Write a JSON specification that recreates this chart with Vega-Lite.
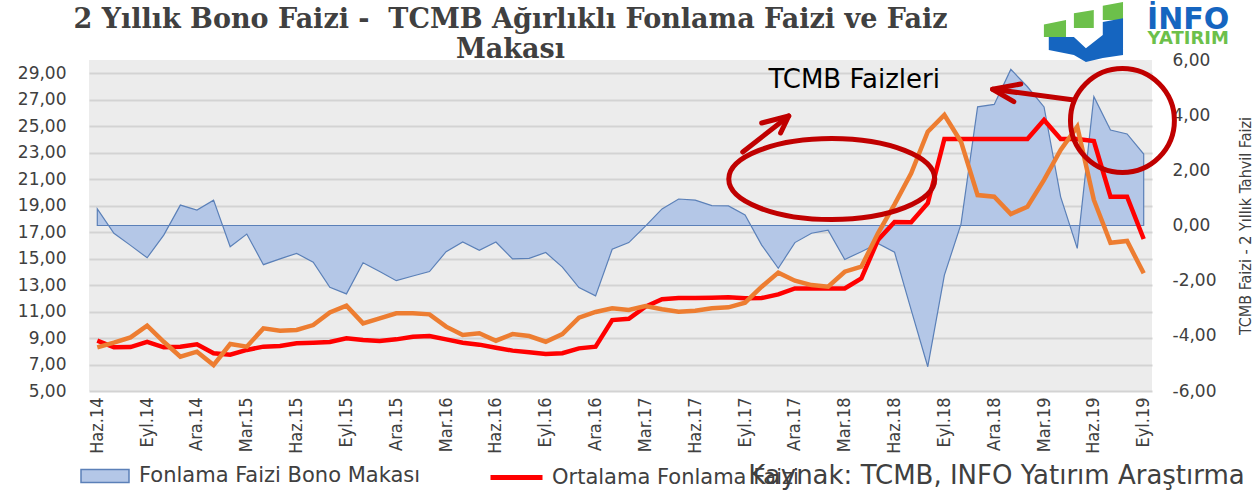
{
  "$schema": "https://vega.github.io/schema/vega-lite/v6.json",
  "width": 1063,
  "height": 331,
  "autosize": "none",
  "padding": {"left": 89, "top": 60, "right": 100, "bottom": 99},
  "background": "#ffffff",
  "config": {
    "font": "DejaVu Sans",
    "view": {"fill": "#ececec", "stroke": null},
    "axis": {"domain": false, "ticks": false, "labelFlush": false, "labelOverlap": false, "labelBound": false, "labelColor": "#404040", "titleColor": "#404040"}
  },
  "title": {
    "text": ["2 Yıllık Bono Faizi - \u00a0TCMB Ağırlıklı Fonlama Faizi ve Faiz", "Makası"],
    "font": "DejaVu Serif",
    "fontSize": 27,
    "fontWeight": "bold",
    "color": "#404040",
    "anchor": "middle",
    "frame": "group",
    "dx": -110,
    "dy": 62,
    "lineHeight": 30,
    "offset": 0
  },
  "datasets": {
    "veri": [
      {"i": 0, "ay": "Haz.14", "makas": 0.60, "fonlama": 8.80, "bono": 8.30},
      {"i": 1, "ay": "Tem.14", "makas": -0.28, "fonlama": 8.30, "bono": 8.65},
      {"i": 2, "ay": "Ağu.14", "makas": -0.72, "fonlama": 8.32, "bono": 9.05},
      {"i": 3, "ay": "Eyl.14", "makas": -1.17, "fonlama": 8.72, "bono": 9.93},
      {"i": 4, "ay": "Eki.14", "makas": -0.35, "fonlama": 8.30, "bono": 8.72},
      {"i": 5, "ay": "Kas.14", "makas": 0.74, "fonlama": 8.35, "bono": 7.59},
      {"i": 6, "ay": "Ara.14", "makas": 0.56, "fonlama": 8.53, "bono": 7.97},
      {"i": 7, "ay": "Oca.15", "makas": 0.92, "fonlama": 7.85, "bono": 6.96},
      {"i": 8, "ay": "Şub.15", "makas": -0.77, "fonlama": 7.74, "bono": 8.55},
      {"i": 9, "ay": "Mar.15", "makas": -0.31, "fonlama": 8.10, "bono": 8.35},
      {"i": 10, "ay": "Nis.15", "makas": -1.42, "fonlama": 8.35, "bono": 9.73},
      {"i": 11, "ay": "May.15", "makas": -1.21, "fonlama": 8.40, "bono": 9.55},
      {"i": 12, "ay": "Haz.15", "makas": -1.01, "fonlama": 8.60, "bono": 9.61},
      {"i": 13, "ay": "Tem.15", "makas": -1.33, "fonlama": 8.65, "bono": 9.98},
      {"i": 14, "ay": "Ağu.15", "makas": -2.24, "fonlama": 8.70, "bono": 10.94},
      {"i": 15, "ay": "Eyl.15", "makas": -2.48, "fonlama": 8.98, "bono": 11.45},
      {"i": 16, "ay": "Eki.15", "makas": -1.35, "fonlama": 8.85, "bono": 10.11},
      {"i": 17, "ay": "Kas.15", "makas": -1.67, "fonlama": 8.78, "bono": 10.49},
      {"i": 18, "ay": "Ara.15", "makas": -2.00, "fonlama": 8.90, "bono": 10.87},
      {"i": 19, "ay": "Oca.16", "makas": -1.83, "fonlama": 9.10, "bono": 10.87},
      {"i": 20, "ay": "Şub.16", "makas": -1.67, "fonlama": 9.15, "bono": 10.79},
      {"i": 21, "ay": "Mar.16", "makas": -0.95, "fonlama": 8.90, "bono": 9.86},
      {"i": 22, "ay": "Nis.16", "makas": -0.60, "fonlama": 8.65, "bono": 9.23},
      {"i": 23, "ay": "May.16", "makas": -0.90, "fonlama": 8.50, "bono": 9.36},
      {"i": 24, "ay": "Haz.16", "makas": -0.60, "fonlama": 8.27, "bono": 8.80},
      {"i": 25, "ay": "Tem.16", "makas": -1.21, "fonlama": 8.05, "bono": 9.30},
      {"i": 26, "ay": "Ağu.16", "makas": -1.19, "fonlama": 7.92, "bono": 9.15},
      {"i": 27, "ay": "Eyl.16", "makas": -0.98, "fonlama": 7.80, "bono": 8.72},
      {"i": 28, "ay": "Eki.16", "makas": -1.51, "fonlama": 7.85, "bono": 9.30},
      {"i": 29, "ay": "Kas.16", "makas": -2.25, "fonlama": 8.22, "bono": 10.54},
      {"i": 30, "ay": "Ara.16", "makas": -2.55, "fonlama": 8.35, "bono": 10.97},
      {"i": 31, "ay": "Oca.17", "makas": -0.86, "fonlama": 10.36, "bono": 11.25},
      {"i": 32, "ay": "Şub.17", "makas": -0.62, "fonlama": 10.46, "bono": 11.12},
      {"i": 33, "ay": "Mar.17", "makas": -0.02, "fonlama": 11.37, "bono": 11.42},
      {"i": 34, "ay": "Nis.17", "makas": 0.60, "fonlama": 11.93, "bono": 11.17},
      {"i": 35, "ay": "May.17", "makas": 0.96, "fonlama": 12.02, "bono": 10.99},
      {"i": 36, "ay": "Haz.17", "makas": 0.92, "fonlama": 12.02, "bono": 11.06},
      {"i": 37, "ay": "Tem.17", "makas": 0.72, "fonlama": 12.05, "bono": 11.25},
      {"i": 38, "ay": "Ağu.17", "makas": 0.71, "fonlama": 12.08, "bono": 11.32},
      {"i": 39, "ay": "Eyl.17", "makas": 0.38, "fonlama": 12.00, "bono": 11.67},
      {"i": 40, "ay": "Eki.17", "makas": -0.71, "fonlama": 12.02, "bono": 12.88},
      {"i": 41, "ay": "Kas.17", "makas": -1.55, "fonlama": 12.30, "bono": 13.94},
      {"i": 42, "ay": "Ara.17", "makas": -0.62, "fonlama": 12.75, "bono": 13.33},
      {"i": 43, "ay": "Oca.18", "makas": -0.28, "fonlama": 12.75, "bono": 13.00},
      {"i": 44, "ay": "Şub.18", "makas": -0.17, "fonlama": 12.75, "bono": 12.88},
      {"i": 45, "ay": "Mar.18", "makas": -1.23, "fonlama": 12.75, "bono": 14.01},
      {"i": 46, "ay": "Nis.18", "makas": -0.95, "fonlama": 13.51, "bono": 14.39},
      {"i": 47, "ay": "May.18", "makas": -0.65, "fonlama": 16.40, "bono": 16.91},
      {"i": 48, "ay": "Haz.18", "makas": -0.97, "fonlama": 17.76, "bono": 19.10},
      {"i": 49, "ay": "Tem.18", "makas": -3.06, "fonlama": 17.74, "bono": 21.44},
      {"i": 50, "ay": "Ağu.18", "makas": -5.12, "fonlama": 19.18, "bono": 24.58},
      {"i": 51, "ay": "Eyl.18", "makas": -1.80, "fonlama": 24.03, "bono": 25.85},
      {"i": 52, "ay": "Eki.18", "makas": 0.05, "fonlama": 24.03, "bono": 23.83},
      {"i": 53, "ay": "Kas.18", "makas": 4.30, "fonlama": 24.03, "bono": 19.80},
      {"i": 54, "ay": "Ara.18", "makas": 4.39, "fonlama": 24.03, "bono": 19.68},
      {"i": 55, "ay": "Oca.19", "makas": 5.66, "fonlama": 24.03, "bono": 18.37},
      {"i": 56, "ay": "Şub.19", "makas": 5.03, "fonlama": 24.03, "bono": 18.92},
      {"i": 57, "ay": "Mar.19", "makas": 4.30, "fonlama": 25.47, "bono": 20.94},
      {"i": 58, "ay": "Nis.19", "makas": 1.04, "fonlama": 24.03, "bono": 23.20},
      {"i": 59, "ay": "May.19", "makas": -0.83, "fonlama": 24.03, "bono": 24.96},
      {"i": 60, "ay": "Haz.19", "makas": 4.67, "fonlama": 23.88, "bono": 19.43},
      {"i": 61, "ay": "Tem.19", "makas": 3.46, "fonlama": 19.68, "bono": 16.20},
      {"i": 62, "ay": "Ağu.19", "makas": 3.32, "fonlama": 19.68, "bono": 16.33},
      {"i": 63, "ay": "Eyl.19", "makas": 2.59, "fonlama": 16.48, "bono": 13.89}
    ],
    "oklar": [
      {"parca": "ok1", "s": 0, "i": 38.86, "v": 23.05},
      {"parca": "ok1", "s": 1, "i": 41.63, "v": 25.77},
      {"parca": "ok1bas", "s": 0, "i": 40.0, "v": 25.24},
      {"parca": "ok1bas", "s": 1, "i": 41.63, "v": 25.77},
      {"parca": "ok1bas", "s": 2, "i": 41.14, "v": 24.49},
      {"parca": "ok2", "s": 0, "i": 58.81, "v": 26.98},
      {"parca": "ok2", "s": 1, "i": 53.9, "v": 27.79},
      {"parca": "ok2bas", "s": 0, "i": 55.6, "v": 28.19},
      {"parca": "ok2bas", "s": 1, "i": 53.9, "v": 27.79},
      {"parca": "ok2bas", "s": 2, "i": 55.18, "v": 26.85}
    ]
  },
  "encoding": {
    "x": {
      "field": "i", "type": "quantitative",
      "scale": {"domain": [-0.5, 63.5], "nice": false, "zero": false},
      "axis": {
        "title": null, "grid": false,
        "values": [0, 3, 6, 9, 12, 15, 18, 21, 24, 27, 30, 33, 36, 39, 42, 45, 48, 51, 54, 57, 60, 63],
        "labelExpr": "['Oca','Şub','Mar','Nis','May','Haz','Tem','Ağu','Eyl','Eki','Kas','Ara'][(datum.value + 5) % 12] + '.' + (14 + floor((datum.value + 5) / 12))",
        "labelAngle": 270,
        "labelFont": "Liberation Sans Narrow, DejaVu Sans Condensed, sans-serif",
        "labelFontSize": 18,
        "labelPadding": 6
      }
    }
  },
  "layer": [
    {
      "data": {"name": "veri"},
      "mark": {"type": "area", "stroke": "#5b80b8", "strokeWidth": 1.2, "opacity": 1},
      "encoding": {
        "y": {
          "field": "makas", "type": "quantitative",
          "scale": {"domain": [-6, 6], "nice": false, "zero": false},
          "axis": {
            "orient": "right", "grid": false,
            "values": [-6, -4, -2, 0, 2, 4, 6],
            "labelExpr": "(datum.value < 0 ? '-' : '') + replace(format(abs(datum.value), '.2f'), '.', ',')",
            "labelFont": "DejaVu Sans", "labelFontSize": 17, "labelPadding": 20,
            "title": "TCMB Faizi - 2 Yıllık Tahvil Faizi",
            "titleFont": "Liberation Sans Narrow, DejaVu Sans Condensed, sans-serif",
            "titleFontSize": 16, "titleFontWeight": "normal", "titleAngle": 270, "titlePadding": 38
          }
        },
        "y2": {"datum": 0},
        "fill": {
          "datum": "Fonlama Faizi Bono Makası", "type": "nominal",
          "scale": {"domain": ["Fonlama Faizi Bono Makası"], "range": ["#b4c7e7"]},
          "legend": {
            "orient": "none", "legendX": 5, "legendY": 405, "direction": "horizontal",
            "title": null,
            "labelFont": "DejaVu Sans", "labelFontSize": 21, "labelColor": "#404040", "labelLimit": 400,
            "symbolType": "M -2.4 -0.65 L 2.4 -0.65 L 2.4 0.65 L -2.4 0.65 Z",
            "symbolSize": 400, "symbolStrokeColor": "#5b80b8", "symbolStrokeWidth": 1.5, "symbolOpacity": 1,
            "labelOffset": 23, "padding": 0
          }
        }
      }
    },
    {
      "encoding": {
        "y": {
          "field": "v", "type": "quantitative",
          "scale": {"domain": [5, 30], "nice": false, "zero": false},
          "axis": {
            "orient": "left", "title": null, "grid": true, "gridColor": "#d3d3d3", "gridWidth": 2,
            "values": [5, 7, 9, 11, 13, 15, 17, 19, 21, 23, 25, 27, 29],
            "labelExpr": "replace(format(datum.value, '.2f'), '.', ',')",
            "labelFont": "DejaVu Sans", "labelFontSize": 17, "labelPadding": 23
          }
        }
      },
      "layer": [
        {
          "data": {"name": "veri"},
          "mark": {"type": "line", "strokeWidth": 4.5},
          "encoding": {
            "y": {
              "field": "fonlama", "type": "quantitative",
              "scale": {"domain": [5, 30], "nice": false, "zero": false},
              "axis": {
                "orient": "left", "title": null, "grid": true, "gridColor": "#d3d3d3", "gridWidth": 2,
                "values": [5, 7, 9, 11, 13, 15, 17, 19, 21, 23, 25, 27, 29],
                "labelExpr": "replace(format(datum.value, '.2f'), '.', ',')",
                "labelFont": "DejaVu Sans", "labelFontSize": 17, "labelPadding": 23
              }
            },
            "stroke": {
              "datum": "Ortalama Fonlama Faizi", "type": "nominal",
              "scale": {"domain": ["Ortalama Fonlama Faizi", "2 Yıllık Bono Faizi"], "range": ["#ff0000", "#ed7d31"]},
              "legend": {
                "orient": "none", "legendX": 415, "legendY": 405, "direction": "horizontal",
                "title": null, "values": ["Ortalama Fonlama Faizi"],
                "labelFont": "DejaVu Sans", "labelFontSize": 21, "labelColor": "#404040", "labelLimit": 400,
                "symbolType": "M -2.6 0 L 2.6 0",
                "symbolSize": 400, "symbolStrokeWidth": 5, "symbolOpacity": 1,
                "labelOffset": 23, "padding": 0
              }
            }
          }
        },
        {
          "data": {"name": "veri"},
          "mark": {"type": "line", "strokeWidth": 4.5},
          "encoding": {
            "y": {
              "field": "bono", "type": "quantitative",
              "scale": {"domain": [5, 30], "nice": false, "zero": false},
              "axis": {
                "orient": "left", "title": null, "grid": true, "gridColor": "#d3d3d3", "gridWidth": 2,
                "values": [5, 7, 9, 11, 13, 15, 17, 19, 21, 23, 25, 27, 29],
                "labelExpr": "replace(format(datum.value, '.2f'), '.', ',')",
                "labelFont": "DejaVu Sans", "labelFontSize": 17, "labelPadding": 23
              }
            },
            "stroke": {"datum": "2 Yıllık Bono Faizi", "type": "nominal"}
          }
        },
        {
          "data": {"values": [{"i": 44.22, "v": 21.01}]},
          "mark": {"type": "point", "shape": "M 1 0 C 1 0.217 0.5523 0.393 0 0.393 C -0.5523 0.393 -1 0.217 -1 0 C -1 -0.217 -0.5523 -0.393 0 -0.393 C 0.5523 -0.393 1 -0.217 1 0 Z", "size": 42436, "filled": false, "stroke": "#c00000", "strokeWidth": 5, "opacity": 1}
        },
        {
          "data": {"values": [{"i": 61.72, "v": 25.43}]},
          "mark": {"type": "point", "shape": "circle", "size": 10800, "filled": false, "stroke": "#c00000", "strokeWidth": 5, "opacity": 1}
        },
        {
          "data": {"name": "oklar"},
          "mark": {"type": "line", "stroke": "#c00000", "strokeWidth": 5, "strokeCap": "round", "strokeJoin": "round"},
          "encoding": {
            "detail": {"field": "parca", "type": "nominal"},
            "order": {"field": "s", "type": "quantitative"}
          }
        },
        {
          "data": {"values": [{"i": 45.57, "v": 28.49, "metin": "TCMB Faizleri"}]},
          "mark": {"type": "text", "font": "DejaVu Sans", "fontSize": 26, "color": "#000000", "align": "center", "baseline": "middle"},
          "encoding": {"text": {"field": "metin"}}
        },
        {
          "data": {"values": [{"i": 39.19, "v": -1.42, "metin": "Kaynak: TCMB, INFO Yatırım Araştırma"}]},
          "mark": {"type": "text", "font": "DejaVu Sans", "fontSize": 26, "color": "#404040", "align": "left", "baseline": "middle"},
          "encoding": {"text": {"field": "metin"}}
        },
        {
          "data": {"values": [
            {"i": 59.34, "v": 32.11, "parca": "yesil"},
            {"i": 59.34, "v": 32.11, "parca": "mavi"}
          ]},
          "mark": {"type": "point", "filled": true, "size": 5625, "opacity": 1, "strokeWidth": 0},
          "encoding": {
            "shape": {
              "field": "parca", "type": "nominal", "legend": null,
              "scale": {"domain": ["yesil", "mavi"], "range": [
                "M -1.04 -0.2 L -0.45 -0.32 L -0.45 0.13 L -1.04 0.13 Z M -0.24 -0.5 L 0.29 -0.59 L 0.29 -0.11 L -0.24 -0.11 Z M 0.53 -0.7 L 1.07 -0.8 L 1.07 -0.32 L 0.53 -0.32 Z",
                "M -0.91 0.13 L -0.24 0.13 L 0.08 0.43 L 0.53 0.08 L 0.53 -0.27 L 1.07 -0.37 L 1.07 0.61 L 0.53 0.69 L 0.08 0.8 L -0.24 0.61 L -0.91 0.48 Z"
              ]}
            },
            "color": {
              "field": "parca", "type": "nominal", "legend": null,
              "scale": {"domain": ["yesil", "mavi"], "range": ["#6cc04a", "#1565c0"]}
            }
          }
        },
        {
          "data": {"values": [{"i": 65.68, "v": 33.05, "metin": "İNFO"}]},
          "mark": {"type": "text", "font": "DejaVu Sans", "fontWeight": "bold", "fontSize": 30, "color": "#1565c0", "align": "center", "baseline": "middle"},
          "encoding": {"text": {"field": "metin"}}
        },
        {
          "data": {"values": [{"i": 65.68, "v": 31.62, "metin": "YATIRIM"}]},
          "mark": {"type": "text", "font": "DejaVu Sans", "fontWeight": "bold", "fontSize": 18, "color": "#6cc04a", "align": "center", "baseline": "middle"},
          "encoding": {"text": {"field": "metin"}}
        }
      ]
    }
  ],
  "resolve": {"scale": {"y": "independent"}}
}
